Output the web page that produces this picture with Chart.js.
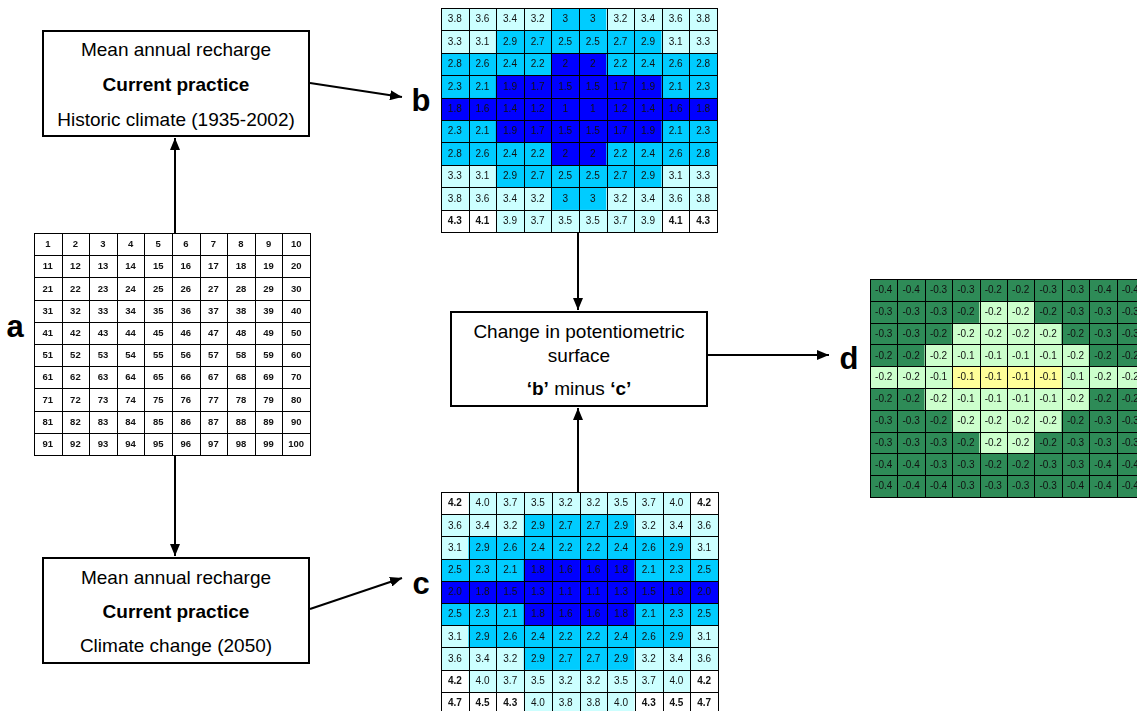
<!DOCTYPE html>
<html lang="en">
<head>
<meta charset="UTF-8" />
<title>Change in potentiometric surface</title>
<script src="https://cdn.jsdelivr.net/npm/chart.js"></script>
<style>
  html, body { margin: 0; padding: 0; background: #fff; }
  body { width: 1137px; height: 711px; position: relative; overflow: hidden;
         font-family: "Liberation Sans", Arial, sans-serif; color: #000; }
  canvas.grid { position: absolute; }
  .box { position: absolute; border: 2px solid #000; box-sizing: border-box; background: #fff; font-size: 19px; }
  .box p { position: absolute; left: 0; right: 0; margin: 0; text-align: center; line-height: 1; transform: translateY(-50%); white-space: nowrap; }
  .tag { position: absolute; font-weight: bold; font-size: 31px; line-height: 1; transform: translate(-50%, -50%); }
  svg { position: absolute; left: 0; top: 0; }
</style>
</head>
<body>

<canvas id="gridA" class="grid" width="278" height="224" style="left:33px;top:232px"></canvas>
<canvas id="gridB" class="grid" width="278" height="226" style="left:440px;top:7px"></canvas>
<canvas id="gridC" class="grid" width="279" height="224" style="left:440px;top:491px"></canvas>
<canvas id="gridD" class="grid" width="276" height="220" style="left:869px;top:278px"></canvas>

<div class="box" style="left:42px;top:30px;width:268px;height:107px">
  <p style="top:17px">Mean annual recharge</p>
  <p style="top:52px"><b>Current practice</b></p>
  <p style="top:87px">Historic climate (1935-2002)</p>
</div>
<div class="box" style="left:42px;top:557px;width:268px;height:107px">
  <p style="top:18px">Mean annual recharge</p>
  <p style="top:52px"><b>Current practice</b></p>
  <p style="top:86px">Climate change (2050)</p>
</div>
<div class="box" style="left:450px;top:311px;width:258px;height:96px">
  <p style="top:18px">Change in potentiometric</p>
  <p style="top:42px">surface</p>
  <p style="top:75px"><b>‘b’</b> minus <b>‘c’</b></p>
</div>

<div class="tag" style="left:15px;top:326px">a</div>
<div class="tag" style="left:421px;top:100px">b</div>
<div class="tag" style="left:421px;top:583px">c</div>
<div class="tag" style="left:849px;top:358px">d</div>

<svg width="1137" height="711">
  <defs>
    <marker id="head" markerWidth="12" markerHeight="10" refX="12" refY="5" orient="auto" markerUnits="userSpaceOnUse">
      <path d="M0,0 L12,5 L0,10 z" fill="#000"/>
    </marker>
  </defs>
  <g stroke="#000" stroke-width="2" marker-end="url(#head)">
    <line x1="175" y1="233" x2="175" y2="138"/>
    <line x1="175" y1="455" x2="175" y2="556"/>
    <line x1="310" y1="83" x2="402" y2="97"/>
    <line x1="310" y1="609" x2="402" y2="578"/>
    <line x1="578" y1="232" x2="578" y2="310"/>
    <line x1="578" y1="492" x2="578" y2="408"/>
    <line x1="708" y1="355" x2="829" y2="355"/>
  </g>
</svg>

<script>
  const columns = ["1", "2", "3", "4", "5", "6", "7", "8", "9", "10"];

  // a: cell numbering
  const cellNumbers = [
    [1, 2, 3, 4, 5, 6, 7, 8, 9, 10],
    [11, 12, 13, 14, 15, 16, 17, 18, 19, 20],
    [21, 22, 23, 24, 25, 26, 27, 28, 29, 30],
    [31, 32, 33, 34, 35, 36, 37, 38, 39, 40],
    [41, 42, 43, 44, 45, 46, 47, 48, 49, 50],
    [51, 52, 53, 54, 55, 56, 57, 58, 59, 60],
    [61, 62, 63, 64, 65, 66, 67, 68, 69, 70],
    [71, 72, 73, 74, 75, 76, 77, 78, 79, 80],
    [81, 82, 83, 84, 85, 86, 87, 88, 89, 90],
    [91, 92, 93, 94, 95, 96, 97, 98, 99, 100]
  ];

  // b: historic climate
  const historicHeads = [
    [3.8, 3.6, 3.4, 3.2, 3, 3, 3.2, 3.4, 3.6, 3.8],
    [3.3, 3.1, 2.9, 2.7, 2.5, 2.5, 2.7, 2.9, 3.1, 3.3],
    [2.8, 2.6, 2.4, 2.2, 2, 2, 2.2, 2.4, 2.6, 2.8],
    [2.3, 2.1, 1.9, 1.7, 1.5, 1.5, 1.7, 1.9, 2.1, 2.3],
    [1.8, 1.6, 1.4, 1.2, 1, 1, 1.2, 1.4, 1.6, 1.8],
    [2.3, 2.1, 1.9, 1.7, 1.5, 1.5, 1.7, 1.9, 2.1, 2.3],
    [2.8, 2.6, 2.4, 2.2, 2, 2, 2.2, 2.4, 2.6, 2.8],
    [3.3, 3.1, 2.9, 2.7, 2.5, 2.5, 2.7, 2.9, 3.1, 3.3],
    [3.8, 3.6, 3.4, 3.2, 3, 3, 3.2, 3.4, 3.6, 3.8],
    [4.3, 4.1, 3.9, 3.7, 3.5, 3.5, 3.7, 3.9, 4.1, 4.3]
  ];

  // c: climate change 2050
  const futureHeads = [
    [4.2, 4.0, 3.7, 3.5, 3.2, 3.2, 3.5, 3.7, 4.0, 4.2],
    [3.6, 3.4, 3.2, 2.9, 2.7, 2.7, 2.9, 3.2, 3.4, 3.6],
    [3.1, 2.9, 2.6, 2.4, 2.2, 2.2, 2.4, 2.6, 2.9, 3.1],
    [2.5, 2.3, 2.1, 1.8, 1.6, 1.6, 1.8, 2.1, 2.3, 2.5],
    [2.0, 1.8, 1.5, 1.3, 1.1, 1.1, 1.3, 1.5, 1.8, 2.0],
    [2.5, 2.3, 2.1, 1.8, 1.6, 1.6, 1.8, 2.1, 2.3, 2.5],
    [3.1, 2.9, 2.6, 2.4, 2.2, 2.2, 2.4, 2.6, 2.9, 3.1],
    [3.6, 3.4, 3.2, 2.9, 2.7, 2.7, 2.9, 3.2, 3.4, 3.6],
    [4.2, 4.0, 3.7, 3.5, 3.2, 3.2, 3.5, 3.7, 4.0, 4.2],
    [4.7, 4.5, 4.3, 4.0, 3.8, 3.8, 4.0, 4.3, 4.5, 4.7]
  ];

  // d: b minus c
  const headChange = [
    [-0.4, -0.4, -0.3, -0.3, -0.2, -0.2, -0.3, -0.3, -0.4, -0.4],
    [-0.3, -0.3, -0.3, -0.2, -0.2, -0.2, -0.2, -0.3, -0.3, -0.3],
    [-0.3, -0.3, -0.2, -0.2, -0.2, -0.2, -0.2, -0.2, -0.3, -0.3],
    [-0.2, -0.2, -0.2, -0.1, -0.1, -0.1, -0.1, -0.2, -0.2, -0.2],
    [-0.2, -0.2, -0.1, -0.1, -0.1, -0.1, -0.1, -0.1, -0.2, -0.2],
    [-0.2, -0.2, -0.2, -0.1, -0.1, -0.1, -0.1, -0.2, -0.2, -0.2],
    [-0.3, -0.3, -0.2, -0.2, -0.2, -0.2, -0.2, -0.2, -0.3, -0.3],
    [-0.3, -0.3, -0.3, -0.2, -0.2, -0.2, -0.2, -0.3, -0.3, -0.3],
    [-0.4, -0.4, -0.3, -0.3, -0.2, -0.2, -0.3, -0.3, -0.4, -0.4],
    [-0.4, -0.4, -0.4, -0.3, -0.3, -0.3, -0.3, -0.4, -0.4, -0.4]
  ];
  // shading class of each d cell: 0 large, 1 medium, 2 small change
  const changeClass = [
    [0, 0, 0, 0, 0, 0, 0, 0, 0, 0],
    [0, 0, 0, 0, 1, 1, 0, 0, 0, 0],
    [0, 0, 0, 1, 1, 1, 1, 0, 0, 0],
    [0, 0, 1, 1, 1, 1, 1, 1, 0, 0],
    [1, 1, 1, 2, 2, 2, 2, 1, 1, 1],
    [0, 0, 1, 1, 1, 1, 1, 1, 0, 0],
    [0, 0, 0, 1, 1, 1, 1, 0, 0, 0],
    [0, 0, 0, 0, 1, 1, 0, 0, 0, 0],
    [0, 0, 0, 0, 0, 0, 0, 0, 0, 0],
    [0, 0, 0, 0, 0, 0, 0, 0, 0, 0]
  ];

  const changeColours = ["#2e8b57", "#ccffcc", "#ffff99"];

  function headColour(v) {
    if (v > 4.05) return "#ffffff";
    if (v > 3.05) return "#ccffff";
    if (v > 2.05) return "#00ccff";
    return "#0000ff";
  }

  // draws cell outlines and the value in each cell
  const cellPlugin = {
    id: "cellText",
    afterDatasetsDraw(chart, args, opts) {
      const ctx = chart.ctx;
      ctx.save();
      ctx.strokeStyle = "#000";
      ctx.lineWidth = 1;
      ctx.textAlign = "center";
      ctx.textBaseline = "middle";
      chart.data.datasets.forEach((ds, r) => {
        chart.getDatasetMeta(r).data.forEach((bar, c) => {
          const p = bar.getProps(["x", "y", "base", "width"], true);
          const top = Math.min(p.y, p.base);
          const h = Math.abs(p.base - p.y);
          const x0 = Math.round(p.x - p.width / 2) + 0.5;
          const x1 = Math.round(p.x + p.width / 2) + 0.5;
          const y0 = Math.round(top) + 0.5;
          const y1 = Math.round(top + h) + 0.5;
          ctx.strokeRect(x0, y0, x1 - x0, y1 - y0);
          ctx.fillStyle = "#111";
          ctx.font = (ds.bolds[c] ? "bold " : "") + opts.size + "px 'Liberation Sans', Arial, sans-serif";
          ctx.fillText(ds.texts[c], p.x, top + h / 2 + 0.5);
        });
      });
      ctx.restore();
    }
  };

  function drawGrid(id, texts, fills, bolds, size) {
    new Chart(document.getElementById(id), {
      type: "bar",
      data: {
        labels: columns,
        datasets: texts.map((row, r) => ({
          data: row.map(() => 1),
          backgroundColor: fills[r],
          texts: row,
          bolds: bolds[r],
          borderWidth: 0,
          categoryPercentage: 1,
          barPercentage: 1
        }))
      },
      options: {
        responsive: false,
        animation: false,
        events: [],
        layout: { padding: 1 },
        plugins: {
          legend: { display: false },
          tooltip: { enabled: false },
          cellText: { size: size }
        },
        scales: {
          x: { display: false, stacked: true, offset: true },
          y: { display: false, stacked: true, min: 0, max: texts.length, reverse: true }
        }
      },
      plugins: [cellPlugin]
    });
  }

  drawGrid("gridA",
    cellNumbers.map(row => row.map(String)),
    cellNumbers.map(row => row.map(() => "#ffffff")),
    cellNumbers.map(row => row.map(() => true)), 9.5);

  drawGrid("gridB",
    historicHeads.map(row => row.map(String)),
    historicHeads.map(row => row.map(headColour)),
    historicHeads.map(row => row.map(v => v > 4.05)), 10);

  drawGrid("gridC",
    futureHeads.map(row => row.map(v => v.toFixed(1))),
    futureHeads.map(row => row.map(headColour)),
    futureHeads.map(row => row.map(v => v > 4.05)), 10);

  drawGrid("gridD",
    headChange.map(row => row.map(v => v.toFixed(1))),
    changeClass.map(row => row.map(k => changeColours[k])),
    headChange.map(row => row.map(() => false)), 10);
</script>
</body>
</html>
